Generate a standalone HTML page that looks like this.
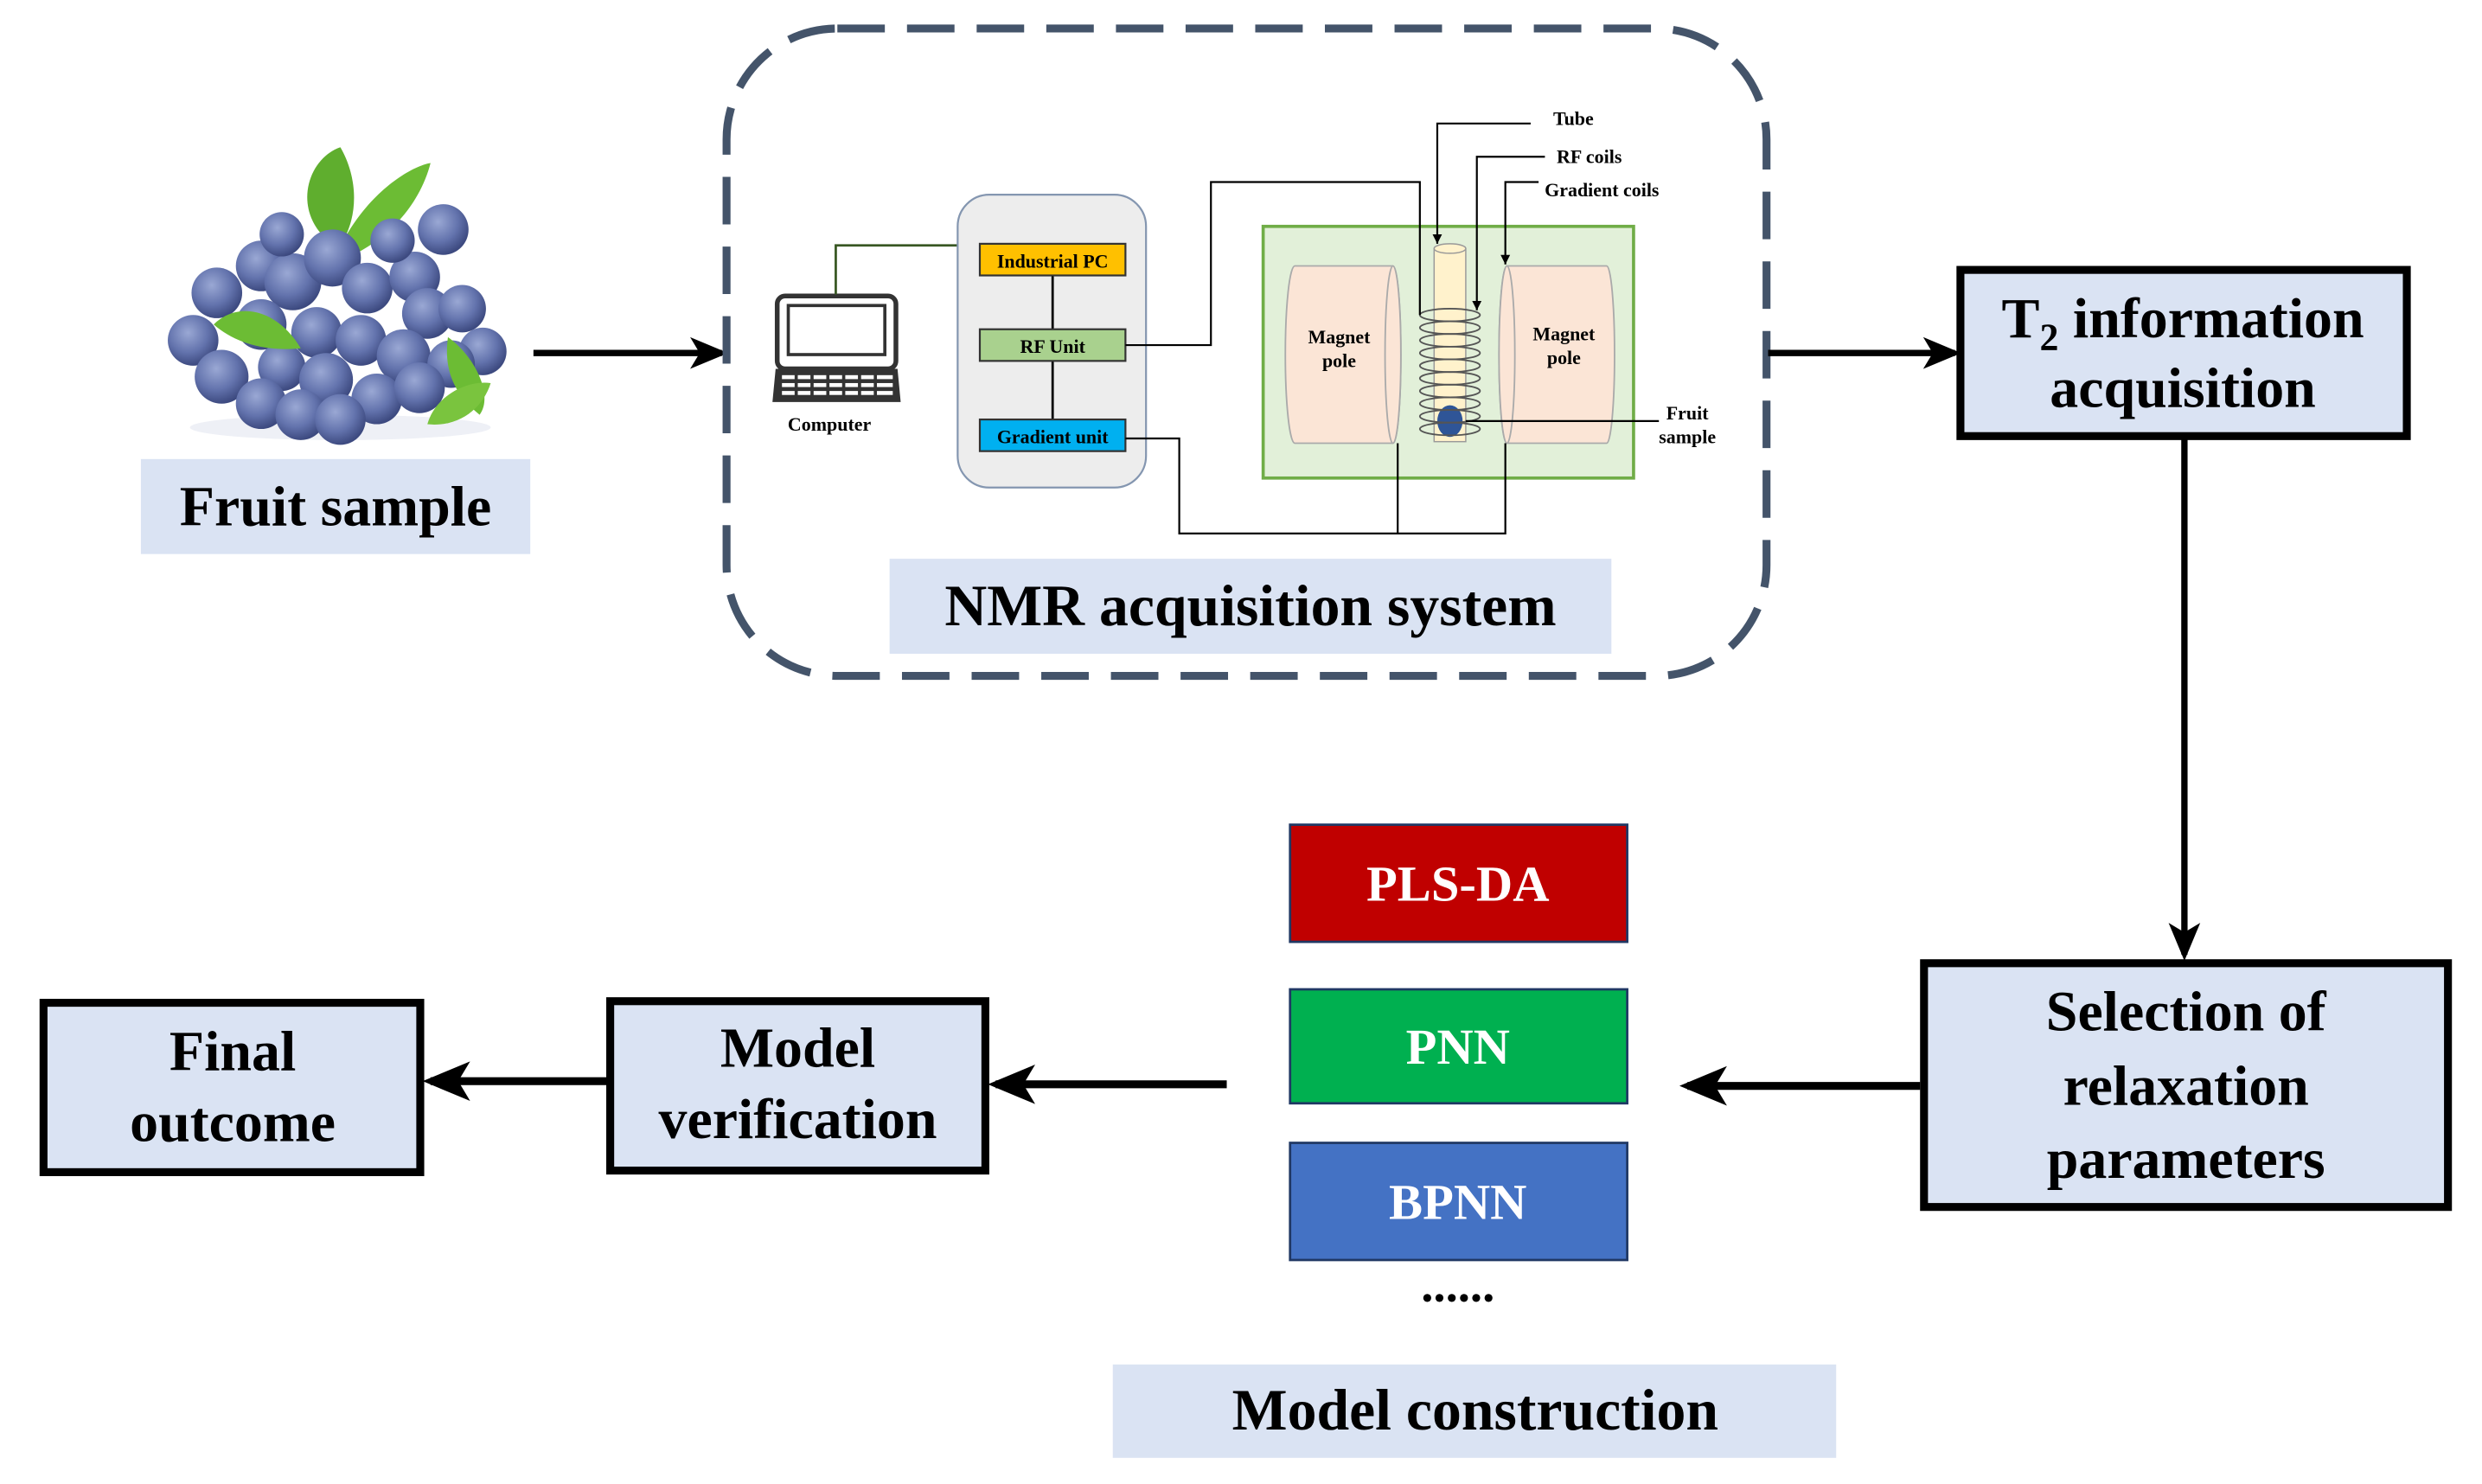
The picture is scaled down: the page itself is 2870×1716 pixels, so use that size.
<!DOCTYPE html>
<html><head><meta charset="utf-8"><style>html,body{margin:0;padding:0;background:#fff}svg{display:block}text{font-family:"Liberation Serif",serif;font-weight:bold}</style></head><body>
<svg width="2870" height="1716" viewBox="0 0 1568 937.5" xmlns="http://www.w3.org/2000/svg">
<defs>
<radialGradient id="bb" cx="40%" cy="35%" r="65%"><stop offset="0" stop-color="#9aa8d4"/><stop offset="0.6" stop-color="#6373ad"/><stop offset="1" stop-color="#3d4a80"/></radialGradient>
<marker id="ah" markerWidth="6" markerHeight="6" refX="5" refY="3" orient="auto" markerUnits="strokeWidth"><path d="M0,0.5 L6,3 L0,5.5 L1.5,3 z" fill="#000"/></marker>
<marker id="sa" markerWidth="8" markerHeight="8" refX="6" refY="4" orient="auto" markerUnits="userSpaceOnUse"><path d="M0,1 L6,4 L0,7 z" fill="#000"/></marker>
</defs>
<g>
<ellipse cx="215" cy="270" rx="95" ry="8" fill="#eef0f6"/>
<path d="M205,150 C185,130 195,100 215,93 C225,110 228,135 215,155 z" fill="#5fae2e"/>
<path d="M218,150 C235,120 260,105 272,103 C265,130 245,150 225,160 z" fill="#6cbc34"/>
<g fill="url(#bb)">
<circle cx="137" cy="185" r="16"/><circle cx="122" cy="215" r="16"/><circle cx="140" cy="238" r="17"/><circle cx="165" cy="168" r="16"/><circle cx="185" cy="178" r="18"/><circle cx="178" cy="148" r="14"/><circle cx="210" cy="163" r="18"/><circle cx="232" cy="182" r="16"/><circle cx="262" cy="175" r="16"/><circle cx="280" cy="145" r="16"/><circle cx="248" cy="152" r="14"/><circle cx="270" cy="198" r="16"/><circle cx="292" cy="195" r="15"/><circle cx="305" cy="222" r="15"/><circle cx="165" cy="205" r="16"/><circle cx="200" cy="210" r="16"/><circle cx="228" cy="215" r="16"/><circle cx="255" cy="225" r="17"/><circle cx="285" cy="230" r="15"/><circle cx="178" cy="232" r="15"/><circle cx="206" cy="240" r="17"/><circle cx="165" cy="255" r="16"/><circle cx="190" cy="262" r="16"/><circle cx="238" cy="252" r="16"/><circle cx="265" cy="245" r="16"/><circle cx="215" cy="265" r="16"/>
</g>
<path d="M135,205 C150,190 175,195 190,220 C170,222 150,218 135,205 z" fill="#6cbc34"/>
<path d="M283,213 C300,225 312,250 303,262 C288,250 280,235 283,213 z" fill="#6cbc34"/>
<path d="M270,268 C275,250 295,240 310,242 C305,258 290,270 270,268 z" fill="#7ac43e"/>
</g>
<rect x="89" y="290" width="246" height="60" fill="#dae3f3"/>
<text x="212" y="332" font-size="36" text-anchor="middle">Fruit sample</text>
<line x1="337" y1="223" x2="456" y2="223" stroke="#000" stroke-width="4" marker-end="url(#ah)"/>
<rect x="459" y="18" width="657" height="409" rx="70" fill="none" stroke="#44546a" stroke-width="5" stroke-dasharray="30 14"/>
<rect x="491" y="187" width="75" height="46" rx="5" fill="#fff" stroke="#333" stroke-width="3"/>
<rect x="498" y="193" width="61" height="31" fill="#fff" stroke="#333" stroke-width="2"/>
<path d="M490,233 L567,233 L569,254 L488,254 z" fill="#333"/>
<g fill="#fff"><rect x="494" y="237" width="70" height="2.5"/><rect x="494" y="242" width="70" height="2.5"/><rect x="494" y="247" width="70" height="2.5"/></g>
<g stroke="#333" stroke-width="2"><line x1="503" y1="236" x2="503" y2="251"/><line x1="513" y1="236" x2="513" y2="251"/><line x1="523" y1="236" x2="523" y2="251"/><line x1="533" y1="236" x2="533" y2="251"/><line x1="543" y1="236" x2="543" y2="251"/><line x1="553" y1="236" x2="553" y2="251"/></g>
<text x="524" y="272" font-size="12" text-anchor="middle">Computer</text>
<polyline points="528,186 528,155 605,155" fill="none" stroke="#385723" stroke-width="1.5"/>
<rect x="605" y="123" width="119" height="185" rx="20" fill="#ededed" stroke="#8496b0" stroke-width="1.2"/>
<line x1="665" y1="174" x2="665" y2="265" stroke="#000" stroke-width="1.5"/>
<rect x="619" y="154" width="92" height="20" fill="#ffc000" stroke="#333" stroke-width="1.2"/>
<rect x="619" y="208" width="92" height="20" fill="#a9d18e" stroke="#333" stroke-width="1.2"/>
<rect x="619" y="265" width="92" height="20" fill="#00b0f0" stroke="#333" stroke-width="1.2"/>
<text x="665" y="169" font-size="12" text-anchor="middle">Industrial PC</text>
<text x="665" y="223" font-size="12" text-anchor="middle">RF Unit</text>
<text x="665" y="280" font-size="12" text-anchor="middle">Gradient unit</text>
<rect x="798" y="143" width="234" height="159" fill="#e2f0d9" stroke="#70ad47" stroke-width="2"/>
<path d="M818,168 L880,168 A5,56 0 0 1 880,280 L818,280 A6,56 0 0 1 818,168 z" fill="#fbe5d6" stroke="#aaa" stroke-width="1"/>
<ellipse cx="880" cy="224" rx="5" ry="56" fill="#fbe5d6" stroke="#aaa" stroke-width="1"/>
<path d="M952,168 L1015,168 A5,56 0 0 1 1015,280 L952,280 A5,56 0 0 1 952,168 z" fill="#fbe5d6" stroke="#aaa" stroke-width="1"/>
<ellipse cx="952" cy="224" rx="5" ry="56" fill="#fbe5d6" stroke="#aaa" stroke-width="1"/>
<text x="846" y="217" font-size="12" text-anchor="middle">Magnet</text>
<text x="846" y="232" font-size="12" text-anchor="middle">pole</text>
<text x="988" y="215" font-size="12" text-anchor="middle">Magnet</text>
<text x="988" y="230" font-size="12" text-anchor="middle">pole</text>
<rect x="906" y="157" width="20" height="122" fill="#fff2cc" stroke="#999" stroke-width="0.8"/>
<ellipse cx="916" cy="157" rx="10" ry="3" fill="#fff2cc" stroke="#999" stroke-width="0.8"/>
<ellipse cx="916" cy="266" rx="8" ry="10" fill="#2f5597"/>
<g fill="none" stroke="#555" stroke-width="1">
<ellipse cx="916" cy="199" rx="19" ry="4"/><ellipse cx="916" cy="207" rx="19" ry="4"/><ellipse cx="916" cy="215" rx="19" ry="4"/><ellipse cx="916" cy="223" rx="19" ry="4"/><ellipse cx="916" cy="231" rx="19" ry="4"/><ellipse cx="916" cy="239" rx="19" ry="4"/><ellipse cx="916" cy="247" rx="19" ry="4"/><ellipse cx="916" cy="255" rx="19" ry="4"/><ellipse cx="916" cy="263" rx="19" ry="4"/><ellipse cx="916" cy="271" rx="19" ry="4"/>
</g>
<g fill="none" stroke="#000" stroke-width="1.2">
<polyline points="711,218 765,218 765,115 897,115 897,199"/>
<polyline points="711,277 745,277 745,337 951,337 951,280"/>
<line x1="883" y1="280" x2="883" y2="337"/>
<polyline points="967,78 908,78 908,154" marker-end="url(#sa)"/>
<polyline points="976,99 933,99 933,196" marker-end="url(#sa)"/>
<polyline points="972,115 951,115 951,167" marker-end="url(#sa)"/>
<line x1="1048" y1="266" x2="926" y2="266"/>
</g>
<text x="994" y="79" font-size="12" text-anchor="middle">Tube</text>
<text x="1004" y="103" font-size="12" text-anchor="middle">RF coils</text>
<text x="1012" y="124" font-size="12" text-anchor="middle">Gradient coils</text>
<text x="1066" y="265" font-size="12" text-anchor="middle">Fruit</text>
<text x="1066" y="280" font-size="12" text-anchor="middle">sample</text>
<rect x="562" y="353" width="456" height="60" fill="#dae3f3"/>
<text x="790" y="395" font-size="37" text-anchor="middle">NMR acquisition system</text>
<line x1="1117" y1="223" x2="1235" y2="223" stroke="#000" stroke-width="4" marker-end="url(#ah)"/>
<rect x="1238.5" y="170.5" width="282" height="105" fill="#dae3f3" stroke="#000" stroke-width="5"/>
<text x="1379" y="213" font-size="36" text-anchor="middle">T<tspan font-size="24" dy="8">2</tspan><tspan dy="-8"> information</tspan></text>
<text x="1379" y="257" font-size="36" text-anchor="middle">acquisition</text>
<line x1="1380" y1="277" x2="1380" y2="603" stroke="#000" stroke-width="4" marker-end="url(#ah)"/>
<rect x="1215.5" y="608.5" width="331" height="154" fill="#dae3f3" stroke="#000" stroke-width="5"/>
<text x="1381" y="651" font-size="36" text-anchor="middle">Selection of</text>
<text x="1381" y="698" font-size="36" text-anchor="middle">relaxation</text>
<text x="1381" y="744" font-size="36" text-anchor="middle">parameters</text>
<line x1="1213" y1="686" x2="1066" y2="686" stroke="#000" stroke-width="5" marker-end="url(#ah)"/>
<rect x="815" y="521" width="213" height="74" fill="#c00000" stroke="#203864" stroke-width="1.5"/>
<text x="921" y="569" font-size="32" fill="#fff" text-anchor="middle">PLS-DA</text>
<rect x="815" y="625" width="213" height="72" fill="#00b050" stroke="#203864" stroke-width="1.5"/>
<text x="921" y="672" font-size="32" fill="#fff" text-anchor="middle">PNN</text>
<rect x="815" y="722" width="213" height="74" fill="#4472c4" stroke="#203864" stroke-width="1.5"/>
<text x="921" y="770" font-size="32" fill="#fff" text-anchor="middle">BPNN</text>
<text x="921" y="822" font-size="31" text-anchor="middle">......</text>
<rect x="703" y="862" width="457" height="59" fill="#dae3f3"/>
<text x="932" y="903" font-size="37" text-anchor="middle">Model construction</text>
<line x1="775" y1="685" x2="629" y2="685" stroke="#000" stroke-width="5" marker-end="url(#ah)"/>
<rect x="385.5" y="632.5" width="237" height="107" fill="#dae3f3" stroke="#000" stroke-width="5"/>
<text x="504" y="674" font-size="36" text-anchor="middle">Model</text>
<text x="504" y="719" font-size="36" text-anchor="middle">verification</text>
<line x1="384" y1="683" x2="272" y2="683" stroke="#000" stroke-width="5" marker-end="url(#ah)"/>
<rect x="27.5" y="633.5" width="238" height="107" fill="#dae3f3" stroke="#000" stroke-width="5"/>
<text x="147" y="676" font-size="36" text-anchor="middle">Final</text>
<text x="147" y="721" font-size="36" text-anchor="middle">outcome</text>
</svg>
</body></html>
